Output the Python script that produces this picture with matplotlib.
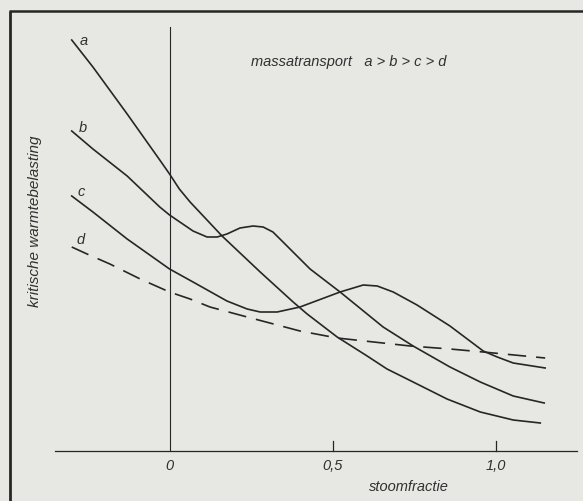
import matplotlib
matplotlib.use("Agg")
import matplotlib.pyplot as plt

# curves: x = stoomfractie, y = kritische warmtebelasting (arbitrary units)
a_x = [-0.30, -0.235, -0.13, -0.03, 0.0, 0.03, 0.063, 0.161, 0.278, 0.379, 0.422,
       0.514, 0.606, 0.667, 0.747, 0.851, 0.953, 1.054, 1.137]
a_y = [4.11, 3.84, 3.37, 2.91, 2.77, 2.62, 2.49, 2.15, 1.79, 1.49, 1.37,
       1.14, 0.95, 0.82, 0.69, 0.52, 0.39, 0.31, 0.28]

b_x = [-0.30, -0.235, -0.13, -0.03, 0.0, 0.072, 0.115, 0.146, 0.176, 0.216, 0.256, 0.287,
       0.317, 0.348, 0.391, 0.431, 0.523, 0.655, 0.747, 0.860, 0.953, 1.054, 1.149]
b_y = [3.20, 3.02, 2.75, 2.44, 2.36, 2.20, 2.14, 2.14, 2.17, 2.23, 2.25, 2.24,
       2.19, 2.09, 1.95, 1.82, 1.59, 1.24, 1.05, 0.84, 0.69, 0.55, 0.48]

c_x = [-0.30, -0.235, -0.13, 0.0, 0.072, 0.176, 0.238, 0.278, 0.330, 0.400, 0.523, 0.594,
       0.637, 0.686, 0.759, 0.860, 0.962, 1.005, 1.054, 1.152]
c_y = [2.55, 2.39, 2.12, 1.82, 1.69, 1.50, 1.42, 1.39, 1.39, 1.44, 1.59, 1.66,
       1.65, 1.59, 1.46, 1.25, 1.00, 0.94, 0.88, 0.83]

d_x = [-0.30, -0.253, -0.183, -0.09, 0.0, 0.063, 0.124, 0.238, 0.400, 0.514, 0.738,
       0.860, 0.962, 1.152]
d_y = [2.04, 1.97, 1.87, 1.72, 1.59, 1.52, 1.44, 1.34, 1.20, 1.13, 1.05,
       1.02, 0.99, 0.93]

curve_names = ["a", "b", "c", "d"]
tick_vals = [0.5, 1.0]
tick_labels = ["0", "0,5", "1,0"]

INK = "#262626"
PAPER = "#e7e7e4"
FONT = dict(family="Liberation Sans", style="italic", color="#303030")

fig = plt.figure(figsize=(5.83, 5.02), dpi=100, facecolor=PAPER)
ax = fig.add_axes([0, 0, 1, 1])
ax.set_xlim(-0.52, 1.268)
ax.set_ylim(-0.50, 4.52)
ax.axis("off")

# scan frame (left + top edge)
ax.plot([0.017, 0.017], [0.0, 0.977], transform=ax.transAxes, color=INK, lw=2.0,
        solid_capstyle="butt")
ax.plot([0.015, 1.0], [0.976, 0.976], transform=ax.transAxes, color=INK, lw=1.8,
        solid_capstyle="butt")

# hand-drawn axes
ax.plot([-0.35, 1.25], [0, 0], color=INK, lw=0.9)
ax.plot([0, 0], [0, 4.24], color=INK, lw=0.8)
for t in tick_vals:
    ax.plot([t, t], [0, 0.10], color=INK, lw=0.9)

# curves
for xs, ys in [(a_x, a_y), (b_x, b_y), (c_x, c_y)]:
    ax.plot(xs, ys, color=INK, lw=1.2, solid_joinstyle="round")
ax.plot(d_x, d_y, color=INK, lw=1.2, linestyle=(0, (11, 6)))

# curve labels
label_xy = [(-0.262, 4.11), (-0.266, 3.24), (-0.271, 2.60), (-0.274, 2.12)]
for name, (lx, ly) in zip(curve_names, label_xy):
    ax.text(lx, ly, name, fontsize=10.5, ha="center", va="center", **FONT)

# tick labels
for v, s in zip([0.0] + tick_vals, tick_labels):
    ax.text(v, -0.14, s, fontsize=10.5, ha="center", va="center", **FONT)

ax.text(0.735, -0.35, "stoomfractie", fontsize=10.5, ha="center", va="center", **FONT)
ax.text(0.55, 3.90, "massatransport   a > b > c > d", fontsize=10.5,
        ha="center", va="center", **FONT)
fig.text(35 / 583, 1 - 221 / 502, "kritische warmtebelasting", fontsize=11,
         rotation=90, ha="center", va="center", **FONT)

fig.savefig("out.png", dpi=100, facecolor=PAPER)
